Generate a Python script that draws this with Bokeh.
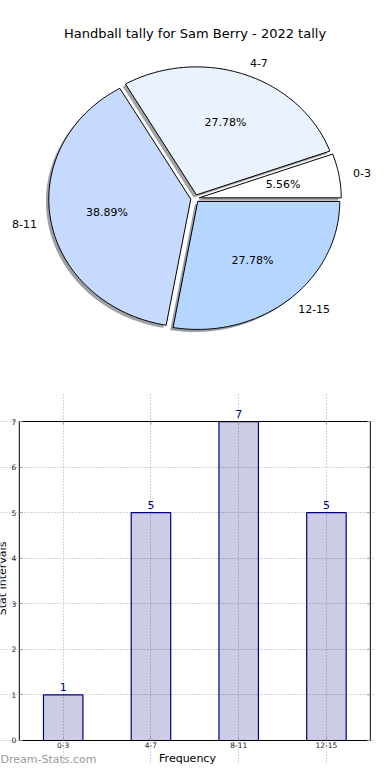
import numpy as np
from bokeh.plotting import figure
from bokeh.models import (Range1d, ColumnDataSource, Label, LabelSet, FixedTicker)
from bokeh.layouts import column
from bokeh.embed import file_html
from bokeh.resources import INLINE
from bokeh.core.properties import value

# ---------------- data ----------------
title_text = "Handball tally for Sam Berry - 2022 tally"
categories = ["0-3", "4-7", "8-11", "12-15"]
counts = [1, 5, 7, 5]
pie_colors = ["#ffffff", "#eaf1ff", "#c6d9ff", "#b4d6ff"]
y_ticks = [0, 1, 2, 3, 4, 5, 6, 7]
x_axis_label = "Frequency"
y_axis_label = "Stat Intervals"
watermark = "Dream-Stats.com"

FONT = "DejaVu Sans"
NAVY = "#000080"
explode = 0.03
shadow_dx, shadow_dy = -0.02, -0.02
label_dist, pct_dist = 1.1, 0.6

# ---------------- pie ----------------
total = float(sum(counts))
fracs = np.array(counts, dtype=float) / total
ends = np.cumsum(fracs) * 2 * np.pi
starts = np.concatenate([[0.0], ends[:-1]])
mids = (starts + ends) / 2

p1 = figure(width=374, height=392, x_range=Range1d(-1.3697, 1.2641),
            y_range=Range1d(-1.5156, 1.5469), x_axis_type=None, y_axis_type=None,
            output_backend="svg", toolbar_location=None, min_border=0, title=None)
p1.outline_line_color = None

xs, ys, sxs, sys_, scols = [], [], [], [], []
for s, e, m, c in zip(starts, ends, mids, pie_colors):
    t = np.linspace(s, e, int(np.degrees(e - s)) + 2)
    cx, cy = explode * np.cos(m), explode * np.sin(m)
    px = np.concatenate([[cx], cx + np.cos(t)])
    py = np.concatenate([[cy], cy + np.sin(t)])
    xs.append(list(px)); ys.append(list(py))
    sxs.append(list(px + shadow_dx)); sys_.append(list(py + shadow_dy))
    r, g, b = int(c[1:3], 16), int(c[3:5], 16), int(c[5:7], 16)
    scols.append("#%02x%02x%02x" % (int(r * 0.3), int(g * 0.3), int(b * 0.3)))

p1.patches(xs=sxs, ys=sys_, fill_color=scols, fill_alpha=0.5, line_color=None)
p1.patches(xs=xs, ys=ys, fill_color=pie_colors, line_color="black", line_width=1)

lab_src = ColumnDataSource(dict(
    x=list((explode + label_dist) * np.cos(mids)),
    y=list((explode + label_dist) * np.sin(mids)),
    text=categories,
    align=["left" if v > 0 else "right" for v in np.cos(mids)],
))
p1.text(x="x", y="y", text="text", text_align="align", text_baseline="middle",
        text_font=value(FONT), text_font_size="11px", text_color="black", source=lab_src)

pct_src = ColumnDataSource(dict(
    x=list((explode + pct_dist) * np.cos(mids)),
    y=list((explode + pct_dist) * np.sin(mids)),
    text=["%.2f%%" % (f * 100) for f in fracs],
))
p1.text(x="x", y="y", text="text", text_align="center", text_baseline="middle",
        text_font=value(FONT), text_font_size="11px", text_color="black", source=pct_src)

p1.add_layout(Label(x=0, y=1.29, text=title_text, text_align="center",
                    text_baseline="alphabetic", text_font=FONT,
                    text_font_size="13px", text_color="black"))

# ---------------- bars ----------------
n_cat = len(categories)
idx = list(range(n_cat))
y_top = y_ticks[-1]

p2 = figure(width=374, height=372, x_range=Range1d(-0.7145, 3.5476),
            y_range=Range1d(-0.527, 7.637), output_backend="svg",
            toolbar_location=None, min_border=0, title=None)
p2.outline_line_color = None

# grid (dotted), bounded to the plotting box
p2.xgrid.ticker = FixedTicker(ticks=idx)
p2.ygrid.ticker = FixedTicker(ticks=y_ticks)
p2.xgrid.bounds = (y_ticks[0], y_top)
p2.ygrid.bounds = (-0.5, n_cat - 0.5)
for g in (p2.xgrid, p2.ygrid):
    g.grid_line_dash = "1 2"
    g.grid_line_color = "#a8a8a8"
    g.grid_line_width = 1

p2.vbar(x=idx, top=counts, width=0.45, fill_color=NAVY, fill_alpha=0.2,
        line_color=NAVY, line_width=1.2)

# plotting box
p2.quad(left=[-0.5], right=[n_cat - 0.5], bottom=[y_ticks[0]], top=[y_top],
        fill_color=None, line_color="black", line_width=1)

tick_col = "#999999"
xa, ya = p2.xaxis[0], p2.yaxis[0]
xa.fixed_location = 0
ya.fixed_location = -0.5
xa.ticker = FixedTicker(ticks=idx)
xa.major_label_overrides = {i: c for i, c in zip(idx, categories)}
ya.ticker = FixedTicker(ticks=y_ticks)
for ax in (xa, ya):
    ax.axis_line_color = None
    ax.major_tick_in = 3
    ax.major_tick_out = 0
    ax.minor_tick_in = 0
    ax.minor_tick_out = 0
    ax.major_tick_line_color = tick_col
    ax.major_label_text_font = FONT
    ax.major_label_text_font_size = "7.5px"
    ax.major_label_text_color = "#222222"
    ax.axis_label_text_font = FONT
    ax.axis_label_text_font_size = "11px"
    ax.axis_label_text_font_style = "normal"
    ax.axis_label_text_color = "black"
ya.major_label_standoff = 3
xa.major_label_standoff = 2
xa.axis_label = x_axis_label
xa.axis_label_standoff = 0
ya.axis_label = y_axis_label
ya.axis_label_standoff = 0

# inward ticks on the right and top edges
p2.ray(x=[n_cat - 0.5] * len(y_ticks), y=y_ticks, length=3, length_units="screen",
       angle=np.pi, line_color=tick_col, line_width=1)
p2.ray(x=idx, y=[y_top] * n_cat, length=3, length_units="screen",
       angle=-np.pi / 2, line_color=tick_col, line_width=1)

# value labels above bars
val_src = ColumnDataSource(dict(x=idx, y=counts, text=[str(c) for c in counts]))
p2.add_layout(LabelSet(x="x", y="y", text="text", source=val_src, y_offset=4,
                       text_align="center", text_baseline="alphabetic",
                       text_font=value(FONT), text_font_size="11px", text_color=NAVY))

p2.add_layout(Label(x=-0.7145, y=-0.42, text=watermark, text_align="left",
                    text_baseline="alphabetic", text_font=FONT, text_font_size="11px",
                    text_color="#9a9a9a"))

layout = column(p1, p2)
open("out.html", "w").write(file_html(layout, INLINE))
